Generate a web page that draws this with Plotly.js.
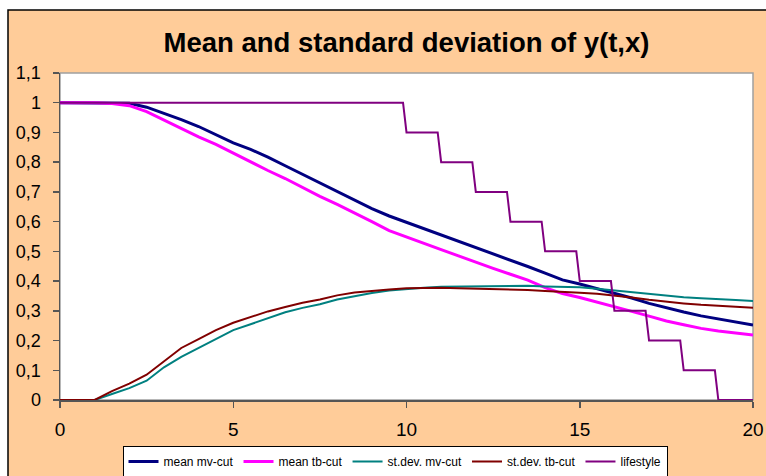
<!DOCTYPE html>
<html>
<head>
<meta charset="utf-8">
<script src="https://cdn.plot.ly/plotly-3.0.1.min.js"></script>
<style>html,body{margin:0;padding:0;background:#fff;}#chart{width:766px;height:476px;}</style>
</head>
<body>
<div id="chart"></div>
<script>
// time grid (x axis)
var tValues = [0,0.5,1,1.5,2,2.5,3,3.5,4,4.5,5,5.5,6,6.5,7,7.5,8,8.5,9,9.5,10,10.5,11,11.5,12,12.5,13,13.5,14,14.5,15,15.5,16,16.5,17,17.5,18,18.5,19,19.5,20];
var meanMvCut = [1,1,1,1,0.998,0.985,0.965,0.943,0.92,0.893,0.865,0.843,0.817,0.788,0.759,0.73,0.701,0.673,0.644,0.619,0.598,0.576,0.555,0.535,0.514,0.493,0.471,0.449,0.427,0.404,0.39,0.375,0.358,0.343,0.325,0.31,0.296,0.283,0.272,0.262,0.2525];
var meanTbCut = [1,1,1,0.997,0.99,0.97,0.942,0.915,0.885,0.86,0.83,0.8,0.772,0.745,0.715,0.685,0.658,0.63,0.6,0.57,0.548,0.527,0.506,0.485,0.463,0.443,0.423,0.403,0.378,0.358,0.345,0.33,0.315,0.298,0.282,0.266,0.253,0.241,0.232,0.225,0.219];
var stdMvCut = [0,0,0,0.02,0.04,0.065,0.11,0.145,0.175,0.205,0.235,0.255,0.275,0.295,0.31,0.322,0.338,0.35,0.36,0.368,0.374,0.378,0.381,0.382,0.383,0.384,0.384,0.384,0.382,0.38,0.379,0.374,0.368,0.362,0.356,0.35,0.346,0.342,0.34,0.336,0.333];
var stdTbCut = [0,0,0,0.03,0.055,0.085,0.13,0.175,0.205,0.235,0.26,0.28,0.298,0.313,0.327,0.338,0.352,0.362,0.368,0.372,0.376,0.378,0.378,0.376,0.375,0.373,0.372,0.37,0.367,0.365,0.361,0.357,0.352,0.345,0.337,0.33,0.325,0.32,0.317,0.313,0.31];
// lifestyle step function
var lifestyleT = [0,9.9,10,10.9,11,11.9,12,12.9,13,13.9,14,14.9,15,15.9,16,16.9,17,17.9,18,18.9,19,20];
var lifestyleY = [1,1,0.9,0.9,0.8,0.8,0.7,0.7,0.6,0.6,0.5,0.5,0.4,0.4,0.3,0.3,0.2,0.2,0.1,0.1,0,0];
// tick labels
var xTickVals = [0,5,10,15,20];
var xTickText = ["0","5","10","15","20"];
var yTickVals = [0,0.1,0.2,0.3,0.4,0.5,0.6,0.7,0.8,0.9,1,1.1];
var yTickText = ["0","0,1","0,2","0,3","0,4","0,5","0,6","0,7","0,8","0,9","1","1,1"];
var seriesNames = ["mean mv-cut","mean tb-cut","st.dev. mv-cut","st.dev. tb-cut","lifestyle"];

var FONT = "Liberation Sans, Arial, sans-serif";
var W = 766, H = 476, ML = 60, MR = 13, MT = 73, MB = 76;
var PW = W - ML - MR, PH = H - MT - MB;
function px(x){ return (x - ML) / PW; }
function py(y){ return (H - MB - y) / PH; }

var traces = [
  {x: tValues, y: meanMvCut, name: seriesNames[0], mode: 'lines', line: {color: '#000080', width: 3}},
  {x: tValues, y: meanTbCut, name: seriesNames[1], mode: 'lines', line: {color: '#ff00ff', width: 3}},
  {x: tValues, y: stdMvCut, name: seriesNames[2], mode: 'lines', line: {color: '#008080', width: 2}},
  {x: tValues, y: stdTbCut, name: seriesNames[3], mode: 'lines', line: {color: '#800000', width: 2}},
  {x: lifestyleT, y: lifestyleY, name: seriesNames[4], mode: 'lines', line: {color: '#800080', width: 2}}
];

var layout = {
  width: W, height: H,
  margin: {l: ML, r: MR, t: MT, b: MB, pad: 0, autoexpand: false},
  paper_bgcolor: '#ffffff',
  plot_bgcolor: '#ffffff',
  font: {family: FONT, color: '#000'},
  title: {text: '<b>Mean and standard deviation of y(t,x)</b>', font: {family: FONT, size: 27.5, color: '#000'},
    xref: 'paper', x: 0.5, xanchor: 'center', yref: 'container', y: 1 - 42/H, yanchor: 'middle'},
  showlegend: true,
  legend: {orientation: 'h', x: px(395), xanchor: 'center', y: py(477), yanchor: 'bottom',
    bgcolor: '#ffffff', bordercolor: '#000000', borderwidth: 1,
    font: {family: FONT, size: 12, color: '#000'}, tracegroupgap: 0, itemwidth: 30},
  xaxis: {range: [0, 20], tickmode: 'array', tickvals: xTickVals, ticktext: xTickText, automargin: false,
    showgrid: false, zeroline: false, showline: true, linecolor: '#555555', linewidth: 1.5,
    ticks: 'outside', ticklen: 6, tickcolor: '#555555', tickwidth: 1.5,
    tickfont: {family: FONT, size: 19, color: '#000'}, ticklabelstandoff: 6, fixedrange: true},
  yaxis: {range: [0, 1.1], tickmode: 'array', tickvals: yTickVals, ticktext: yTickText, automargin: false,
    showgrid: false, zeroline: false, showline: true, linecolor: '#555555', linewidth: 1.5,
    ticks: 'outside', ticklen: 6, tickcolor: '#555555', tickwidth: 1.5,
    tickfont: {family: FONT, size: 18, color: '#000'}, ticklabelstandoff: 8, fixedrange: true},
  shapes: [
    {type: 'rect', xref: 'paper', yref: 'paper', layer: 'below',
      x0: px(8), x1: px(800), y0: py(500), y1: py(10),
      fillcolor: '#ffcc99', line: {color: '#000000', width: 1.5}},
    {type: 'rect', xref: 'paper', yref: 'paper', layer: 'below',
      x0: 0, x1: 1, y0: 0, y1: 1,
      fillcolor: '#ffffff', line: {color: '#a0a0a0', width: 1.5}}
  ]
};

Plotly.newPlot('chart', traces, layout, {displayModeBar: false, staticPlot: true});
</script>
</body>
</html>
